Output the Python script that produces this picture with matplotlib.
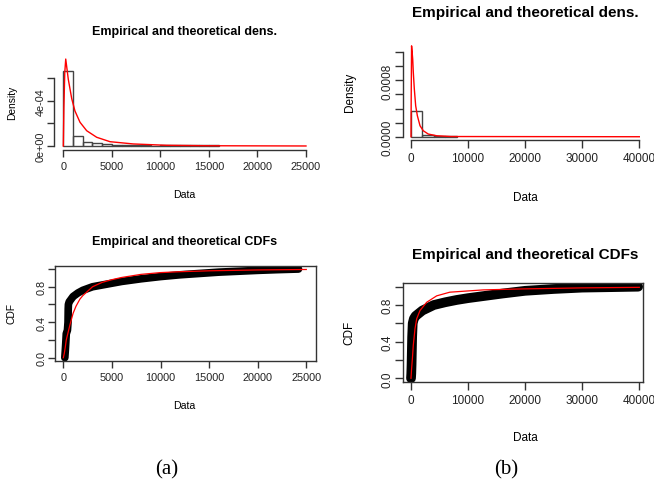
import numpy as np
import matplotlib
matplotlib.use('Agg')
import matplotlib.pyplot as plt

plt.rcParams['font.family'] = ['Liberation Sans', 'DejaVu Sans']

# ---- data ----
# (a) histogram of the data (density scale)
hist_a_edges = [0, 1000, 2000, 3000, 4000, 5000, 6000, 7000, 8000, 9000, 10000,
                11000, 12000, 13000, 14000, 15000, 16000]
hist_a_dens = [6.66e-4, 9.1e-5, 3.8e-5, 2.7e-5, 1.8e-5, 1.2e-5, 6e-6, 1.2e-5, 1.2e-5,
               4e-6, 6e-6, 6e-6, 6e-6, 6e-6, 6e-6, 6e-6]
# (a) fitted density
dens_a_x = [0, 60, 150, 250, 515, 865, 1200, 1720, 2410, 3440, 4810, 7210, 10650, 15000, 25000]
dens_a_y = [0.0, 3.4e-4, 6.5e-4, 7.7e-4, 5.9e-4, 4.2e-4, 3.1e-4, 2.1e-4, 1.35e-4, 7.7e-5,
            3.8e-5, 1.8e-5, 6e-6, 2e-6, 0.0]
# (a) empirical CDF
ecdf_a_x = [150, 200, 250, 300, 420, 480, 500, 520, 600, 800, 1000, 1500, 2000, 2500, 3000,
            4000, 5000, 6000, 7000, 8000, 10000, 12000, 14000, 16000, 18000, 20000, 22000, 24200]
ecdf_a_y = [0.0, 0.08, 0.17, 0.27, 0.31, 0.4, 0.55, 0.6, 0.63, 0.66, 0.69, 0.73, 0.76, 0.78, 0.8,
            0.82, 0.84, 0.86, 0.875, 0.89, 0.915, 0.935, 0.95, 0.965, 0.975, 0.985, 0.993, 1.0]
# (a) fitted CDF
cdf_a_x = [0, 100, 200, 300, 500, 700, 1000, 1300, 1700, 2000, 2500, 3000, 4000, 5000, 6000,
           8000, 10000, 12000, 15000, 20000, 25000]
cdf_a_y = [0.0, 0.05, 0.12, 0.2, 0.29, 0.38, 0.5, 0.58, 0.66, 0.7, 0.75, 0.8, 0.85, 0.88, 0.905,
           0.94, 0.96, 0.97, 0.98, 0.99, 0.995]

# (b) histogram
hist_b_edges = [0, 2000, 4000, 6000, 8000]
hist_b_dens = [3.7e-4, 3.0e-5, 1.0e-5, 1.0e-5]
# (b) fitted density
dens_b_x = [0, 40, 100, 200, 300, 400, 580, 820, 1110, 1580, 2150, 3030, 4500, 7000, 40000]
dens_b_y = [0.0, 6e-4, 1.29e-3, 1.2e-3, 1.1e-3, 9.2e-4, 6.8e-4, 4.4e-4, 3.0e-4, 1.56e-4, 8.5e-5,
            3.8e-5, 1.4e-5, 3e-6, 0.0]
# (b) empirical CDF
ecdf_b_x = [0, 50, 100, 150, 200, 300, 500, 800, 1200, 2000, 3000, 4000, 6000, 8000, 10000,
            13000, 16000, 20000, 25000, 30000, 35000, 39800]
ecdf_b_y = [0.0, 0.05, 0.15, 0.3, 0.45, 0.6, 0.65, 0.68, 0.7, 0.74, 0.77, 0.8, 0.83, 0.855, 0.875,
            0.9, 0.925, 0.955, 0.975, 0.99, 0.995, 1.0]
# (b) fitted CDF
cdf_b_x = [0, 100, 250, 400, 700, 1000, 1580, 2750, 4500, 6800, 12660, 19100, 30000, 40000]
cdf_b_y = [0.0, 0.1, 0.22, 0.36, 0.54, 0.65, 0.74, 0.83, 0.9, 0.94, 0.965, 0.975, 0.987, 0.993]

W, H = 654, 485
fig = plt.figure(figsize=(W / 100, H / 100), dpi=100)
fig.patch.set_facecolor('white')


def add_ax(left, top, right, bottom):
    # pixel box -> figure fraction
    return fig.add_axes([left / W, 1 - bottom / H, (right - left) / W, (bottom - top) / H])


def txt(x, y, s, **kw):
    fig.text(x / W, 1 - y / H, s, ha='center', va='center', **kw)


def r_axes(ax, xticks, yticks, ylabels, fs, tl, box=False):
    for side in ['top', 'right']:
        ax.spines[side].set_visible(box)
    for sp in ax.spines.values():
        sp.set_color('#333333')
        sp.set_linewidth(1.0)
    if not box:
        ax.spines['bottom'].set_bounds(xticks[0], xticks[-1])
        ax.spines['left'].set_bounds(yticks[0], yticks[-1])
    ax.set_xticks(xticks)
    ax.set_xticklabels([str(t) for t in xticks])
    ax.set_yticks(yticks)
    ax.set_yticklabels(ylabels, rotation=90, va='center')
    ax.tick_params(axis='both', length=tl, width=1.0, color='#333333', labelsize=fs,
                   labelcolor='#222222')
    ax.tick_params(axis='x', pad=3)
    ax.tick_params(axis='y', pad=1)


ecol = '#444444'

# ---------------- (a) density ----------------
ax = add_ax(53.6, 55.4, 315.7, 150.5)
ax.bar(hist_a_edges[:-1], hist_a_dens, width=np.diff(hist_a_edges), align='edge',
       fill=False, edgecolor=ecol, linewidth=1.0)
ax.plot(dens_a_x, dens_a_y, color='red', linewidth=1.0)
ax.set_xlim(-1000, 26000)
ax.set_ylim(-0.04 * 7.8e-4, 1.04 * 7.8e-4)
r_axes(ax, [0, 5000, 10000, 15000, 20000, 25000], [0, 2e-4, 4e-4, 6e-4],
       ['0e+00', '', '4e-04', ''], 7.8, 5)
txt(184.5, 32, 'Empirical and theoretical dens.', fontsize=9, fontweight='bold')
txt(184.5, 195, 'Data', fontsize=7.6)
txt(12, 103, 'Density', fontsize=7.4, rotation=90)

# ---------------- (a) CDF ----------------
ax = add_ax(55, 266.5, 316, 361.5)
ax.plot(ecdf_a_x, ecdf_a_y, color='black', linewidth=5.5, solid_capstyle='round',
        solid_joinstyle='round')
ax.plot(cdf_a_x, cdf_a_y, color='red', linewidth=0.9)
ax.set_xlim(-860, 26000)
ax.set_ylim(-0.032, 1.04)
r_axes(ax, [0, 5000, 10000, 15000, 20000, 25000], [0, 0.2, 0.4, 0.6, 0.8, 1.0],
       ['0.0', '', '0.4', '', '0.8', ''], 7.8, 5, box=True)
txt(184.5, 241.7, 'Empirical and theoretical CDFs', fontsize=9, fontweight='bold')
txt(184.5, 406, 'Data', fontsize=7.6)
txt(11.7, 314, 'CDF', fontsize=7.4, rotation=90)

# ---------------- (b) density ----------------
ax = add_ax(402.7, 42.5, 642.7, 141.4)
ax.bar(hist_b_edges[:-1], hist_b_dens, width=np.diff(hist_b_edges), align='edge',
       fill=False, edgecolor=ecol, linewidth=1.0)
ax.plot(dens_b_x, dens_b_y, color='red', linewidth=1.0)
ax.set_xlim(-1454, 40596)
ax.set_ylim(-0.04 * 1.3e-3, 1.04 * 1.3e-3)
r_axes(ax, [0, 10000, 20000, 30000, 40000], [0, 2e-4, 4e-4, 6e-4, 8e-4, 1e-3, 1.2e-3],
       ['0.0000', '', '', '', '0.0008', '', ''], 8.5, 5.5)
txt(525, 13.3, 'Empirical and theoretical dens.', fontsize=11, fontweight='bold')
txt(525, 197.7, 'Data', fontsize=8.5)
txt(350, 92, 'Density', fontsize=8.5, rotation=90)

# ---------------- (b) CDF ----------------
ax = add_ax(402.7, 284.3, 642.7, 383.3)
ax.plot(ecdf_b_x, ecdf_b_y, color='black', linewidth=7, solid_capstyle='round',
        solid_joinstyle='round')
ax.plot(cdf_b_x, cdf_b_y, color='red', linewidth=0.9)
ax.set_xlim(-1454, 40596)
ax.set_ylim(-0.044, 1.037)
r_axes(ax, [0, 10000, 20000, 30000, 40000], [0, 0.2, 0.4, 0.6, 0.8, 1.0],
       ['0.0', '', '0.4', '', '0.8', ''], 8.5, 5.5, box=True)
txt(525, 255, 'Empirical and theoretical CDFs', fontsize=11, fontweight='bold')
txt(525, 438.3, 'Data', fontsize=8.5)
txt(349.3, 333, 'CDF', fontsize=8.5, rotation=90)

# captions
txt(166.7, 470, '(a)', fontsize=15, family=['Liberation Serif', 'DejaVu Serif'])
txt(506, 470, '(b)', fontsize=15, family=['Liberation Serif', 'DejaVu Serif'])

fig.savefig('out.png', dpi=100, facecolor='white')
